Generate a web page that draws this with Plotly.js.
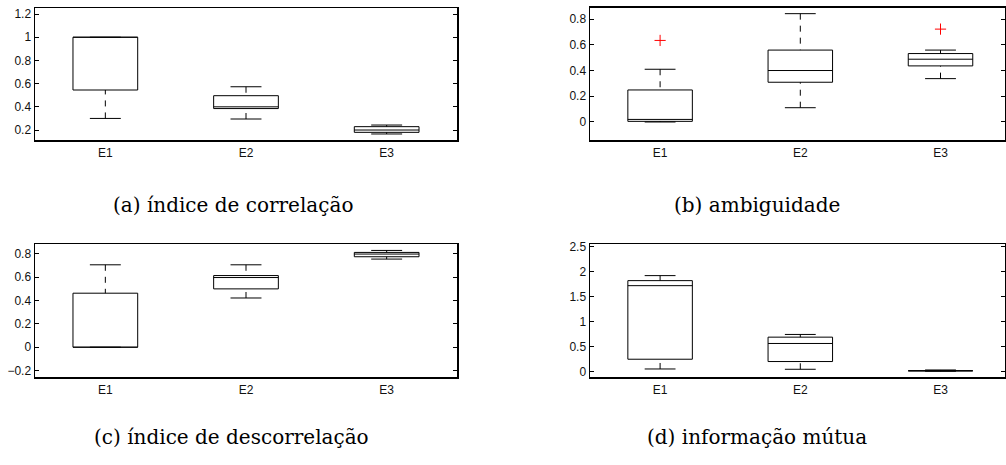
<!DOCTYPE html>
<html>
<head>
<meta charset="utf-8">
<script src="https://cdn.plot.ly/plotly-3.0.1.min.js"></script>
<style>
  html, body { margin: 0; padding: 0; background: #fff; overflow: hidden; }
  #chart { width: 1006px; height: 465px; }
</style>
</head>
<body>
<div id="chart"></div>
<script>
// Experiment groups shown on every panel
const groups = ['E1', 'E2', 'E3'];

// (a) índice de correlação — five-number summaries per group
const corrLower  = [0.300, 0.295, 0.166];
const corrQ1     = [0.545, 0.385, 0.180];
const corrMedian = [1.000, 0.400, 0.200];
const corrQ3     = [1.000, 0.496, 0.229];
const corrUpper  = [1.000, 0.573, 0.243];
const corrOutliers = [[], [], []];

// (b) ambiguidade
const ambLower  = [0.000, 0.111, 0.337];
const ambQ1     = [0.005, 0.309, 0.436];
const ambMedian = [0.020, 0.400, 0.488];
const ambQ3     = [0.249, 0.559, 0.532];
const ambUpper  = [0.410, 0.842, 0.559];
const ambOutliers = [[0.634], [], [0.722]];

// (c) índice de descorrelação
const decLower  = [0.000, 0.421, 0.754];
const decQ1     = [0.000, 0.499, 0.774];
const decMedian = [0.000, 0.596, 0.797];
const decQ3     = [0.462, 0.613, 0.811];
const decUpper  = [0.705, 0.705, 0.828];
const decOutliers = [[], [], []];

// (d) informação mútua
const miLower  = [0.060, 0.054, 0.015];
const miQ1     = [0.254, 0.208, 0.022];
const miMedian = [1.720, 0.568, 0.027];
const miQ3     = [1.820, 0.694, 0.032];
const miUpper  = [1.920, 0.748, 0.040];
const miOutliers = [[], [], []];

// Panel captions
const captions = [
  '(a) índice de correlação',
  '(b) ambiguidade',
  '(c) índice de descorrelação',
  '(d) informação mútua'
];

const W = 1006, H = 465;
const BOX_HALF = 0.23;   // half box width, in category units
const CAP_HALF = 0.11;   // half whisker-cap width
const INK = '#000000';

// Build the traces that draw one MATLAB-style boxplot panel
function boxTraces(ax, lower, q1, med, q3, upper, outliers) {
  const xa = 'x' + ax, ya = 'y' + ax;
  const box = {x: [], y: []}, mid = {x: [], y: []};
  const whisk = {x: [], y: []}, caps = {x: [], y: []}, out = {x: [], y: []};
  groups.forEach((g, i) => {
    const c = i + 1;
    box.x.push(c - BOX_HALF, c + BOX_HALF, c + BOX_HALF, c - BOX_HALF, c - BOX_HALF, null);
    box.y.push(q1[i], q1[i], q3[i], q3[i], q1[i], null);
    mid.x.push(c - BOX_HALF, c + BOX_HALF, null);
    mid.y.push(med[i], med[i], null);
    if (upper[i] > q3[i]) { whisk.x.push(c, c, null); whisk.y.push(upper[i], q3[i], null); }
    if (lower[i] < q1[i]) { whisk.x.push(c, c, null); whisk.y.push(lower[i], q1[i], null); }
    caps.x.push(c - CAP_HALF, c + CAP_HALF, null, c - CAP_HALF, c + CAP_HALF, null);
    caps.y.push(upper[i], upper[i], null, lower[i], lower[i], null);
    outliers[i].forEach(v => { out.x.push(c); out.y.push(v); });
  });
  const base = {type: 'scatter', mode: 'lines', xaxis: xa, yaxis: ya, hoverinfo: 'skip', showlegend: false};
  return [
    Object.assign({}, base, box, {line: {color: INK, width: 1}}),
    Object.assign({}, base, whisk, {line: {color: INK, width: 1, dash: '6px,6px'}}),
    Object.assign({}, base, caps, {line: {color: INK, width: 1}}),
    Object.assign({}, base, mid, {line: {color: INK, width: 1}}),
    Object.assign({}, base, out, {mode: 'markers',
      marker: {symbol: 'cross-thin', size: 8, line: {color: '#ff0000', width: 1}}})
  ];
}

const data = [].concat(
  boxTraces('', corrLower, corrQ1, corrMedian, corrQ3, corrUpper, corrOutliers),
  boxTraces('2', ambLower, ambQ1, ambMedian, ambQ3, ambUpper, ambOutliers),
  boxTraces('3', decLower, decQ1, decMedian, decQ3, decUpper, decOutliers),
  boxTraces('4', miLower, miQ1, miMedian, miQ3, miUpper, miOutliers)
);

const tickFont = {family: "'Liberation Sans', Arial, sans-serif", size: 12, color: '#111'};

// Panel frames in pixels: [left, right, top, bottom]
const frames = [[35, 457, 8, 140], [590, 1005, 7.5, 140], [35, 457, 244, 377], [590, 1005, 244, 377]];
const yRanges = [[0.114, 1.252], [-0.14, 0.89], [-0.255, 0.883], [-0.1, 2.55]];
const yDtick = [0.2, 0.2, 0.2, 0.5];
const xRanges = [[0.5, 3.5], [0.5, 3.46], [0.5, 3.5], [0.5, 3.46]];

const layout = {
  width: W, height: H,
  margin: {l: 0, r: 0, t: 0, b: 0},
  paper_bgcolor: '#fff', plot_bgcolor: '#fff',
  showlegend: false,
  annotations: []
};

frames.forEach((f, k) => {
  const sx = k === 0 ? '' : String(k + 1);
  layout['xaxis' + sx] = {
    domain: [f[0] / W, f[1] / W],
    anchor: 'y' + sx,
    range: xRanges[k],
    tickmode: 'array', tickvals: [1, 2, 3], ticktext: groups,
    ticks: '', showgrid: false, zeroline: false,
    showline: true, linecolor: '#000', linewidth: 1.5, mirror: true,
    tickfont: tickFont, ticklabelstandoff: 1, fixedrange: true
  };
  layout['yaxis' + sx] = {
    domain: [1 - f[3] / H, 1 - f[2] / H],
    anchor: 'x' + sx,
    range: yRanges[k],
    dtick: yDtick[k], tick0: 0,
    ticks: 'inside', ticklen: 4, tickwidth: 1, tickcolor: '#000',
    showgrid: false, zeroline: false,
    showline: true, linecolor: '#000', linewidth: 1.5, mirror: 'ticks',
    tickfont: tickFont, ticklabelstandoff: 0, fixedrange: true
  };
});

// Captions under each panel
const capPos = [[233, 205], [757, 205], [231, 437], [757, 437]];
captions.forEach((t, k) => {
  layout.annotations.push({
    text: t, showarrow: false,
    xref: 'paper', yref: 'paper',
    x: capPos[k][0] / W, y: 1 - capPos[k][1] / H,
    xanchor: 'center', yanchor: 'middle',
    font: {family: "'DejaVu Serif', serif", size: 20, color: '#000'}
  });
});

Plotly.newPlot('chart', data, layout, {staticPlot: true, displayModeBar: false});
</script>
</body>
</html>
